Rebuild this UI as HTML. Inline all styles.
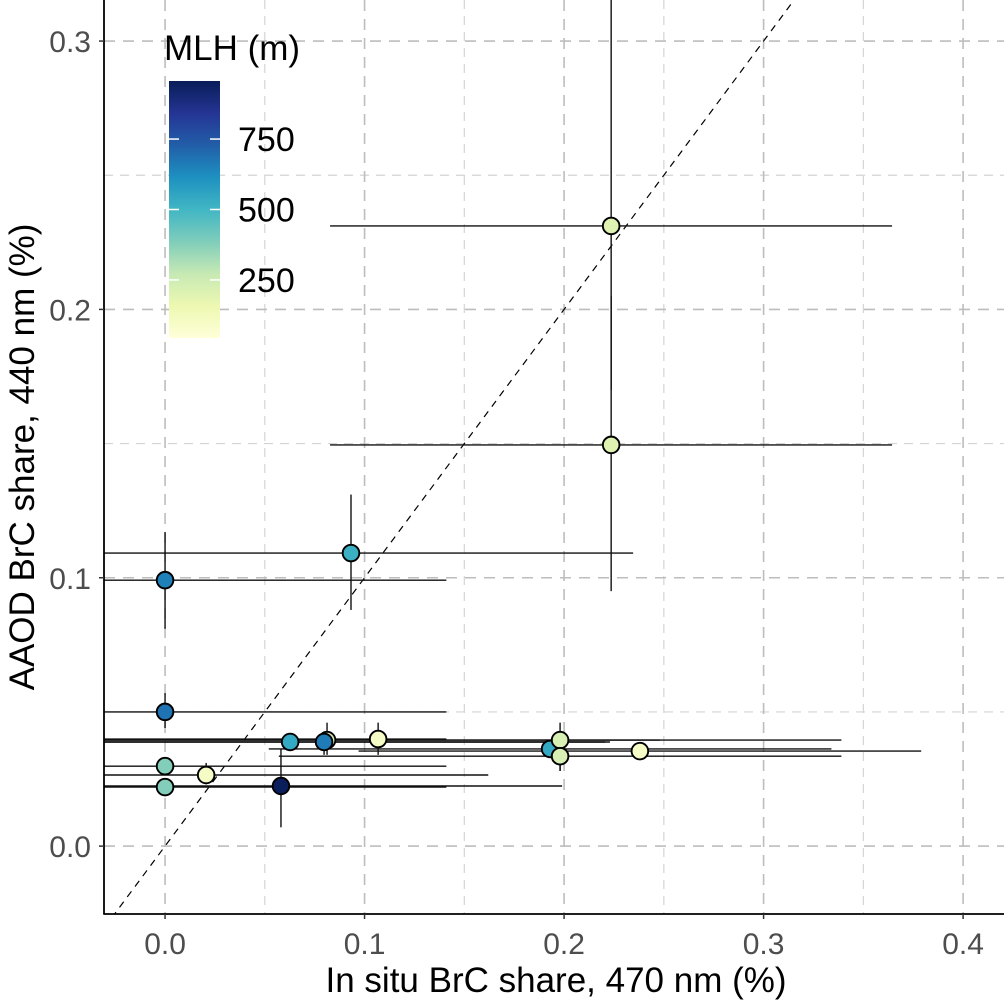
<!DOCTYPE html>
<html><head><meta charset="utf-8"><style>
html,body{margin:0;padding:0;background:#fff;}
svg{display:block;font-family:"Liberation Sans",Arial,sans-serif;}
</style></head><body>
<svg id="chart" width="1004" height="1003" viewBox="0 0 1004 1003">
<defs>
<linearGradient id="cbar" x1="0" y1="1" x2="0" y2="0">
<stop offset="0" stop-color="#ffffd9"/><stop offset="0.125" stop-color="#edf8b1"/><stop offset="0.25" stop-color="#c7e9b4"/><stop offset="0.375" stop-color="#7fcdbb"/><stop offset="0.5" stop-color="#41b6c4"/><stop offset="0.625" stop-color="#1d91c0"/><stop offset="0.75" stop-color="#225ea8"/><stop offset="0.875" stop-color="#253494"/><stop offset="1" stop-color="#081d58"/>
</linearGradient>
<clipPath id="plotclip"><rect x="104" y="0" width="900" height="914"/></clipPath>
</defs>
<g id="grid"></g>
<g id="marks" clip-path="url(#plotclip)"></g>
<g id="axes"></g>
<g id="legend"></g>
</svg>
<script>
const xVals = [0.0, 0.0932, 0.2236, 0.2236, 0.0, 0.0812, 0.0627, 0.0797, 0.1068, 0.193, 0.198, 0.198, 0.238, 0.0, 0.0206, 0.0, 0.0581];
const yVals = [0.0991, 0.1092, 0.2311, 0.1495, 0.050, 0.0395, 0.0388, 0.0388, 0.0399, 0.0362, 0.0395, 0.0335, 0.0354, 0.0298, 0.0265, 0.022, 0.0224];
const xLo = [-0.06, -0.06, 0.0827, 0.0827, -0.06, -0.06, -0.06, -0.06, -0.06, 0.052, -0.06, 0.057, 0.097, -0.06, -0.06, -0.06, -0.06];
const xHi = [0.141, 0.2346, 0.3644, 0.3644, 0.141, 0.248, 0.2206, 0.223, 0.141, 0.334, 0.339, 0.339, 0.379, 0.141, 0.162, 0.141, 0.199];
const yLo = [0.081, 0.088, 0.17, 0.095, 0.044, 0.034, 0.0375, 0.034, 0.034, 0.034, 0.028, 0.028, 0.034, 0.028, 0.023, 0.020, 0.007];
const yHi = [0.117, 0.131, 0.34, 0.205, 0.057, 0.046, 0.040, 0.040, 0.046, 0.038, 0.046, 0.040, 0.037, 0.031, 0.031, 0.024, 0.036];
const mlh = [650, 520, 200, 200, 680, 230, 540, 660, 100, 540, 220, 220, 100, 380, 100, 380, 950];
const xTicks = [0.0, 0.1, 0.2, 0.3, 0.4];
const yTicks = [0.0, 0.1, 0.2, 0.3];
const xTickLabels = ["0.0", "0.1", "0.2", "0.3", "0.4"];
const yTickLabels = ["0.0", "0.1", "0.2", "0.3"];
const legendTicks = [250, 500, 750];

const NS = "http://www.w3.org/2000/svg";
const X0 = 104, X1 = 1004, Y0 = 0, Y1 = 914;
const xMin = -0.0306, xMax = 0.4205, yMin = -0.0253, yMax = 0.3153;
const sx = v => X0 + (v - xMin) / (xMax - xMin) * (X1 - X0);
const sy = v => Y1 - (v - yMin) / (yMax - yMin) * (Y1 - Y0);
const cMin = 44, cMax = 956;
const stops = ["#ffffd9","#edf8b1","#c7e9b4","#7fcdbb","#41b6c4","#1d91c0","#225ea8","#253494","#081d58"];
function hex(h){return [1,3,5].map(i=>parseInt(h.substr(i,2),16));}
function color(v){
  let t = Math.max(0, Math.min(1, (v - cMin) / (cMax - cMin))) * (stops.length - 1);
  let i = Math.min(stops.length - 2, Math.floor(t)), f = t - i;
  const a = hex(stops[i]), b = hex(stops[i+1]);
  return "rgb(" + a.map((c,k)=>Math.round(c + (b[k]-c)*f)).join(",") + ")";
}
function mk(tag, attrs, parent, text){
  const e = document.createElementNS(NS, tag);
  for (const k in attrs) e.setAttribute(k, attrs[k]);
  if (text !== undefined) e.textContent = text;
  parent.appendChild(e); return e;
}
const grid = document.getElementById("grid");
const marks = document.getElementById("marks");
const axes = document.getElementById("axes");
const legend = document.getElementById("legend");

for (let v = -0.05; v <= 0.45; v += 0.1) {
  const px = sx(v);
  if (px > X0 && px < X1) {
    const l = mk("line", {x1:px, x2:px, y1:Y0, y2:Y1, stroke:"#d4d4d4", "stroke-width":1.2, "stroke-dasharray":"9,7"}, grid);
    
    
  }
}
for (let v = -0.05; v <= 0.35; v += 0.1) {
  const py = sy(v);
  if (py > Y0 && py < Y1) {
    const l = mk("line", {x1:X0, x2:X1, y1:py, y2:py, stroke:"#d4d4d4", "stroke-width":1.2, "stroke-dasharray":"9,7"}, grid);
    
    
  }
}
xTicks.forEach(v => {
  const l = mk("line", {x1:sx(v), x2:sx(v), y1:Y0, y2:Y1, stroke:"#bdbdbd", "stroke-width":1.6, "stroke-dasharray":"11,8"}, grid);
  
  
});
yTicks.forEach(v => {
  const l = mk("line", {x1:X0, x2:X1, y1:sy(v), y2:sy(v), stroke:"#bdbdbd", "stroke-width":1.6, "stroke-dasharray":"11,8"}, grid);
  
  
});

const oneone = mk("line", {x1:sx(xMin), y1:sy(xMin), x2:sx(yMax), y2:sy(yMax), stroke:"#000", "stroke-width":1.2, "stroke-dasharray":"7,6"}, marks);



for (let i = 0; i < xVals.length; i++) {
  const h = mk("line", {x1:sx(xLo[i]), x2:sx(xHi[i]), y1:sy(yVals[i]), y2:sy(yVals[i]), stroke:"#111", "stroke-width":1.4}, marks);
  
  
  const v = mk("line", {x1:sx(xVals[i]), x2:sx(xVals[i]), y1:sy(yLo[i]), y2:sy(yHi[i]), stroke:"#111", "stroke-width":1.4}, marks);
  
  
}
for (let i = 0; i < xVals.length; i++) {
  const c = mk("circle", {cx:sx(xVals[i]), cy:sy(yVals[i]), r:8.3, fill:color(mlh[i]), stroke:"#000", "stroke-width":1.9}, marks);
  
  
}

const ax = mk("line", {x1:X0, x2:X0, y1:Y0, y2:Y1+0.5, stroke:"#000", "stroke-width":1.8}, axes);


const bx = mk("line", {x1:X0-0.5, x2:X1, y1:Y1, y2:Y1, stroke:"#000", "stroke-width":1.8}, axes);


xTicks.forEach((v, i) => {
  const t = mk("line", {x1:sx(v), x2:sx(v), y1:Y1, y2:Y1+5, stroke:"#333", "stroke-width":1.5}, axes);
  
  
  const l = mk("text", {x:sx(v), y:954, "text-anchor":"middle", "font-size":30, fill:"#4d4d4d"}, axes, xTickLabels[i]);
  
  
});
yTicks.forEach((v, i) => {
  const t = mk("line", {x1:X0-5, x2:X0, y1:sy(v), y2:sy(v), stroke:"#333", "stroke-width":1.5}, axes);
  
  
  const l = mk("text", {x:91, y:sy(v)+11, "text-anchor":"end", "font-size":30, fill:"#4d4d4d"}, axes, yTickLabels[i]);
  
  
});
const xt = mk("text", {x:556, y:992, "text-anchor":"middle", "font-size":35, fill:"#000"}, axes, "In situ BrC share, 470 nm (%)");


const yt = mk("text", {x:0, y:0, transform:"translate(34,457) rotate(-90)", "text-anchor":"middle", "font-size":35, fill:"#000"}, axes, "AAOD BrC share, 440 nm (%)");



const LB = {x:169, y:81, w:51, h:257};
const lt = mk("text", {x:164, y:60, "font-size":35, fill:"#000"}, legend, "MLH (m)");


const lr = mk("rect", {x:LB.x, y:LB.y, width:LB.w, height:LB.h, fill:"url(#cbar)"}, legend);


const ly = v => LB.y + LB.h - (v - cMin) / (cMax - cMin) * LB.h;
legendTicks.forEach(v => {
  const a = mk("line", {x1:LB.x, x2:LB.x+10, y1:ly(v), y2:ly(v), stroke:"#fff", "stroke-width":1.5}, legend);
  
  
  const b = mk("line", {x1:LB.x+LB.w-10, x2:LB.x+LB.w, y1:ly(v), y2:ly(v), stroke:"#fff", "stroke-width":1.5}, legend);
  
  
  const t = mk("text", {x:238, y:ly(v)+12, "font-size":34, fill:"#000"}, legend, String(v));
  
  
});
</script>
</body></html>
